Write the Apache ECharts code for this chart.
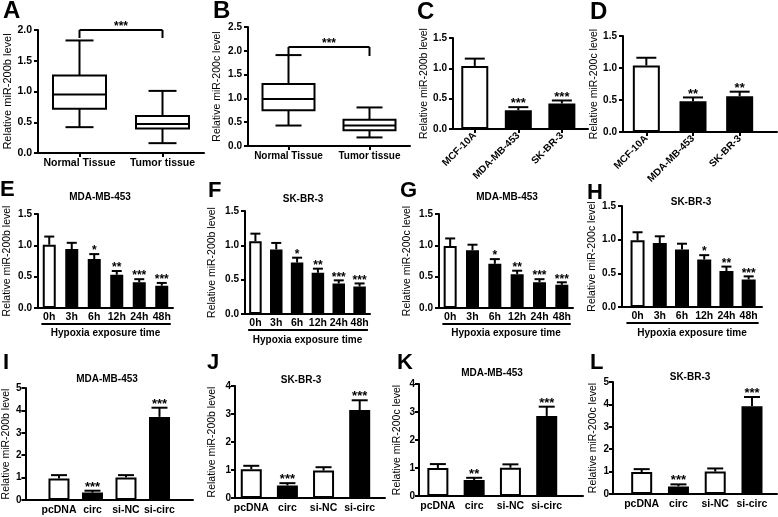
<!DOCTYPE html>
<html>
<head>
<meta charset="utf-8">
<script src="https://cdn.jsdelivr.net/npm/echarts@6.0.0/dist/echarts.min.js"></script>
<style>
html,body{margin:0;padding:0;background:#fff;}
#chart{width:778px;height:517px;}
</style>
</head>
<body>
<div id="chart"></div>
<script>
// ---------------- data ----------------
const tissueCats = ['Normal Tissue', 'Tumor tissue'];
// [min, q1, median, q3, max]
const boxA = [[0.42, 0.72, 0.95, 1.26, 1.83], [0.16, 0.40, 0.47, 0.60, 1.01]];
const boxB = [[0.43, 0.75, 0.99, 1.30, 1.91], [0.18, 0.33, 0.43, 0.55, 0.81]];
const bracketA = [0, 1, 2.0];
const bracketB = [0, 1, 2.08];
const bracketStars = '***';

const cellCats = ['MCF-10A', 'MDA-MB-453', 'SK-BR-3'];
const meanC = [1.04, 0.31, 0.42];
const errC = [0.12, 0.05, 0.05];
const starsC = ['', '***', '***'];
const meanD = [1.04, 0.48, 0.56];
const errD = [0.12, 0.06, 0.07];
const starsD = ['', '**', '**'];

const timeCats = ['0h', '3h', '6h', '12h', '24h', '48h'];
const meanE = [1.01, 0.94, 0.78, 0.53, 0.41, 0.355];
const errE = [0.13, 0.10, 0.08, 0.06, 0.05, 0.045];
const starsE = ['', '', '*', '**', '***', '***'];
const meanF = [1.06, 0.94, 0.75, 0.60, 0.445, 0.40];
const errF = [0.11, 0.095, 0.07, 0.06, 0.045, 0.045];
const starsF = ['', '', '*', '**', '***', '***'];
const meanG = [0.99, 0.92, 0.705, 0.54, 0.41, 0.37];
const errG = [0.12, 0.09, 0.075, 0.055, 0.05, 0.04];
const starsG = ['', '', '*', '**', '***', '***'];
const meanH = [0.99, 0.95, 0.855, 0.705, 0.535, 0.41];
const errH = [0.12, 0.10, 0.085, 0.065, 0.065, 0.045];
const starsH = ['', '', '', '*', '**', '***'];

const treatCats = ['pcDNA', 'circ', 'si-NC', 'si-circ'];
const meanI = [0.96, 0.33, 1.01, 3.71];
const errI = [0.15, 0.085, 0.10, 0.41];
const starsI = ['', '***', '', '***'];
const meanJ = [1.03, 0.45, 0.98, 3.14];
const errJ = [0.12, 0.08, 0.12, 0.35];
const starsJ = ['', '***', '', '***'];
const meanK = [1.00, 0.57, 1.01, 2.86];
const errK = [0.14, 0.08, 0.12, 0.33];
const starsK = ['', '**', '', '***'];
const meanL = [0.98, 0.34, 1.00, 3.92];
const errL = [0.13, 0.09, 0.14, 0.41];
const starsL = ['', '***', '', '***'];

const yLab200b = 'Relative miR-200b level';
const yLab200c = 'Relative miR-200c level';
const hypoxiaLabel = 'Hypoxia exposure time';

// ---------------- layout / style ----------------
const BLACK = '#000';
const FONT = '"Liberation Sans", Arial, Helvetica, sans-serif';
const LS = {color: BLACK, width: 2};

const panels = [
  {kind:'box', cats:tissueCats, boxes:boxA, bracket:bracketA, yName:yLab200b, ymax:2, yint:0.5, dec:1,
   grid:[38,30,166,123], xr:[-0.5,1.5], yGap:25, yFont:11, tickFont:10.5, catFont:10.5, catMargin:5, xTick:true, boxHalf:26.5, capHalf:14, brTick:8},
  {kind:'box', cats:tissueCats, boxes:boxB, bracket:bracketB, yName:yLab200c, ymax:2.5, yint:0.5, dec:1,
   grid:[248,27,162,119], xr:[-0.5,1.5], yGap:25, yFont:10.5, tickFont:10, catFont:10, catMargin:5, xTick:true, boxHalf:26, capHalf:13, brTick:9},
  {kind:'bar', cats:cellCats, mean:meanC, err:errC, stars:starsC, white:[0], yName:yLab200b, ymax:1.5, yint:0.5, dec:1,
   grid:[453,38,135,91], xr:[-0.5,2.6], yGap:23, yFont:10.5, tickFont:10, catFont:10, catMargin:5, rotate:45, xTick:true, barW:27, cap:10, starFont:13},
  {kind:'bar', cats:cellCats, mean:meanD, err:errD, stars:starsD, white:[0], yName:yLab200c, ymax:1.5, yint:0.5, dec:1,
   grid:[623,36,154,96], xr:[-0.5,2.8], yGap:22, yFont:10.5, tickFont:10, catFont:10, catMargin:5, rotate:45, xTick:true, barW:27, cap:10, starFont:13},
  {kind:'bar', cats:timeCats, mean:meanE, err:errE, stars:starsE, white:[0], yName:yLab200b, ymax:1.5, yint:0.5, dec:1,
   grid:[38,214,135,94], xr:[-0.5,5.5], yGap:25, yFont:10.5, tickFont:10, catFont:10.5, catMargin:4, xTick:false, barW:13, cap:5, starFont:12,
   title:'MDA-MB-453', titlePos:[100,197], xName:hypoxiaLabel, xNameGap:20, underline:[-0.35,5.4]},
  {kind:'bar', cats:timeCats, mean:meanF, err:errF, stars:starsF, white:[0], yName:yLab200b, ymax:1.5, yint:0.5, dec:1,
   grid:[245,211,125,103], xr:[-0.5,5.5], yGap:27, yFont:10.5, tickFont:10, catFont:10.5, catMargin:4, xTick:false, barW:12.5, cap:5, starFont:12,
   title:'SK-BR-3', titlePos:[303,199], xName:hypoxiaLabel, xNameGap:21, underline:[-0.35,5.4]},
  {kind:'bar', cats:timeCats, mean:meanG, err:errG, stars:starsG, white:[0], yName:yLab200c, ymax:1.5, yint:0.5, dec:1,
   grid:[439,214,134,94], xr:[-0.5,5.5], yGap:26, yFont:10.5, tickFont:10, catFont:10.5, catMargin:4, xTick:false, barW:13, cap:5, starFont:12,
   title:'MDA-MB-453', titlePos:[507,197], xName:hypoxiaLabel, xNameGap:20, underline:[-0.35,5.4]},
  {kind:'bar', cats:timeCats, mean:meanH, err:errH, stars:starsH, white:[0], yName:yLab200c, ymax:1.5, yint:0.5, dec:1,
   grid:[622,206,140,101], xr:[-0.7,5.6], yGap:24, yFont:10.5, tickFont:10, catFont:10.5, catMargin:4, xTick:false, barW:14, cap:5, starFont:12,
   title:'SK-BR-3', titlePos:[691,202], xName:hypoxiaLabel, xNameGap:21, underline:[-0.5,5.45]},
  {kind:'bar', cats:treatCats, mean:meanI, err:errI, stars:starsI, white:[0,2], yName:yLab200b, ymax:5, yint:1, dec:0,
   grid:[17,388,176,112], xr:[-1,4], yGap:8, yFont:10.5, tickFont:10, tickMargin:4, catFont:10.5, catMargin:5, xTick:false, barW:21, cap:8, starFont:13,
   title:'MDA-MB-453', titlePos:[107,379]},
  {kind:'bar', cats:treatCats, mean:meanJ, err:errJ, stars:starsJ, white:[0,2], yName:yLab200b, ymax:4, yint:1, dec:0,
   grid:[235,386,150,112], xr:[-0.45,3.7], yGap:17, yFont:10.5, tickFont:10, tickMargin:4, catFont:10.5, catMargin:5, xTick:false, barW:21, cap:8, starFont:13,
   title:'SK-BR-3', titlePos:[301,380]},
  {kind:'bar', cats:treatCats, mean:meanK, err:errK, stars:starsK, white:[0,2], yName:yLab200c, ymax:4, yint:1, dec:0,
   grid:[419,384,164,112], xr:[-0.52,4.0], yGap:16, yFont:10.5, tickFont:10, tickMargin:4, catFont:10.5, catMargin:5, xTick:false, barW:21, cap:8, starFont:13,
   title:'MDA-MB-453', titlePos:[492,373]},
  {kind:'bar', cats:treatCats, mean:meanL, err:errL, stars:starsL, white:[0,2], yName:yLab200c, ymax:5, yint:1, dec:0,
   grid:[613,382,164,112], xr:[-0.78,3.68], yGap:14, yFont:10.5, tickFont:10, tickMargin:4, catFont:10.5, catMargin:5, xTick:false, barW:21, cap:8, starFont:13,
   title:'SK-BR-3', titlePos:[690,377]}
];

const letters = [
  ['A',3,11,24],['B',213,11,24],['C',417,12,24],['D',590,12,24],
  ['E',0,190,22],['F',208,191,22],['G',400,191,22],['H',587,193,22],
  ['I',3,363,22],['J',207,363,22],['K',397,363,22],['L',590,363,22]
];

function txt(text, x, y, font, align, valign) {
  return {type:'text', style:{text:text, x:x, y:y, fill:BLACK, font:font,
    align:align, textAlign:align, verticalAlign:valign, textVerticalAlign:valign}};
}
function seg(x1,y1,x2,y2){
  return {type:'line', shape:{x1:x1,y1:y1,x2:x2,y2:y2}, style:{stroke:BLACK, lineWidth:2}};
}

const grid=[], xAxis=[], yAxis=[], series=[], graphic=[];

panels.forEach((p,i)=>{
  const idx = p.cats.map((_,k)=>k);
  grid.push({left:p.grid[0], top:p.grid[1], width:p.grid[2], height:p.grid[3]});
  xAxis.push({
    type:'value', gridIndex:i, min:p.xr[0], max:p.xr[1],
    axisLine:{show:true, onZero:false, lineStyle:LS},
    axisTick:{show:!!p.xTick, length:4, lineStyle:LS, customValues:idx},
    axisLabel:{show:true, customValues:idx, formatter:(v)=>p.cats[Math.round(v)]||'',
      color:BLACK, fontFamily:FONT, fontWeight:'bold', fontSize:p.catFont, margin:p.catMargin, rotate:p.rotate||0},
    splitLine:{show:false},
    name:p.xName||'', nameLocation:'middle', nameGap:p.xNameGap||20,
    nameTextStyle:{color:BLACK, fontFamily:FONT, fontSize:10, fontWeight:'bold'}
  });
  yAxis.push({
    type:'value', gridIndex:i, min:0, max:p.ymax, interval:p.yint,
    axisLine:{show:true, onZero:false, lineStyle:LS},
    axisTick:{show:true, length:4, lineStyle:LS},
    splitLine:{show:false},
    axisLabel:{formatter:(v)=>p.dec? v.toFixed(1) : String(v), color:BLACK, fontFamily:FONT,
      fontWeight:'bold', fontSize:p.tickFont, margin:p.tickMargin||6},
    name:p.yName, nameLocation:'middle', nameGap:p.yGap,
    nameTextStyle:{color:BLACK, fontFamily:FONT, fontSize:p.yFont}
  });

  if (p.kind==='box') {
    series.push({
      type:'custom', xAxisIndex:i, yAxisIndex:i, z:3,
      data:p.boxes.map((b,k)=>[k].concat(b)),
      encode:{x:0, y:[1,2,3,4,5]},
      renderItem:(params, api)=>{
        const x=api.value(0);
        const pMin=api.coord([x,api.value(1)]), pQ1=api.coord([x,api.value(2)]),
              pMed=api.coord([x,api.value(3)]), pQ3=api.coord([x,api.value(4)]),
              pMax=api.coord([x,api.value(5)]);
        const cx=pMin[0], hw=p.boxHalf, cw=p.capHalf;
        return {type:'group', children:[
          seg(cx,pQ3[1],cx,pMax[1]), seg(cx-cw,pMax[1],cx+cw,pMax[1]),
          seg(cx,pQ1[1],cx,pMin[1]), seg(cx-cw,pMin[1],cx+cw,pMin[1]),
          {type:'rect', shape:{x:cx-hw, y:pQ3[1], width:2*hw, height:pQ1[1]-pQ3[1]},
           style:{fill:'#fff', stroke:BLACK, lineWidth:2}},
          seg(cx-hw,pMed[1],cx+hw,pMed[1])
        ]};
      }
    });
    series.push({
      type:'custom', xAxisIndex:i, yAxisIndex:i, z:4,
      data:[p.bracket], encode:{x:[0,1], y:2},
      renderItem:(params, api)=>{
        const a=api.coord([api.value(0), api.value(2)]), b=api.coord([api.value(1), api.value(2)]);
        return {type:'group', children:[
          seg(a[0],a[1],b[0],b[1]), seg(a[0],a[1],a[0],a[1]+p.brTick), seg(b[0],b[1],b[0],b[1]+p.brTick),
          txt(bracketStars,(a[0]+b[0])/2,a[1]+3,'bold 12px '+FONT,'center','bottom')
        ]};
      }
    });
  } else {
    series.push({
      type:'bar', xAxisIndex:i, yAxisIndex:i, barWidth:p.barW, z:2,
      data:p.mean.map((m,k)=>({value:[k,m],
        itemStyle: p.white.indexOf(k)>=0 ? {color:'#fff', borderColor:BLACK, borderWidth:2}
                                          : {color:BLACK, borderColor:BLACK, borderWidth:2}}))
    });
    series.push({
      type:'custom', xAxisIndex:i, yAxisIndex:i, z:5,
      data:p.mean.map((m,k)=>[k,m,p.err[k]]), encode:{x:0, y:1},
      renderItem:(params, api)=>{
        const x=api.value(0), m=api.value(1), e=api.value(2);
        const a=api.coord([x,m]), b=api.coord([x,m+e]);
        const ch=[seg(a[0],a[1],b[0],b[1]), seg(b[0]-p.cap,b[1],b[0]+p.cap,b[1])];
        const s=p.stars[params.dataIndex];
        if (s) ch.push(txt(s,b[0],b[1]+3,'bold '+p.starFont+'px '+FONT,'center','bottom'));
        return {type:'group', children:ch};
      }
    });
    if (p.underline) {
      series.push({
        type:'custom', xAxisIndex:i, yAxisIndex:i, z:5,
        data:[[p.underline[0], p.underline[1], 0]], encode:{x:[0,1], y:2},
        renderItem:(params, api)=>{
          const a=api.coord([api.value(0),0]), b=api.coord([api.value(1),0]);
          return seg(a[0],a[1]+16,b[0],b[1]+16);
        }
      });
    }
    if (p.title) {
      graphic.push(txt(p.title, p.titlePos[0], p.titlePos[1], 'bold 10px '+FONT, 'center', 'middle'));
    }
  }
});

letters.forEach(l=>graphic.push(txt(l[0], l[1], l[2], 'bold '+l[3]+'px '+FONT, 'left', 'middle')));

const chart = echarts.init(document.getElementById('chart'), null, {renderer:'canvas'});
chart.setOption({
  animation:false,
  backgroundColor:'#fff',
  grid:grid, xAxis:xAxis, yAxis:yAxis, series:series, graphic:graphic
});
</script>
</body>
</html>
